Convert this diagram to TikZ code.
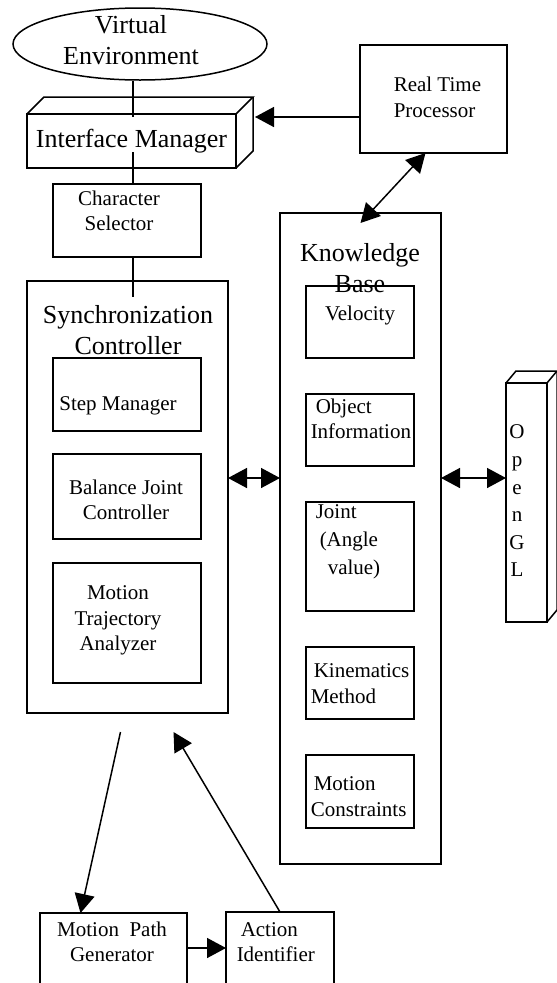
\documentclass[tikz,border=0pt]{standalone}
\usepackage{fontspec}
\setmainfont{Liberation Serif}
\usetikzlibrary{arrows.meta,shapes.geometric}
\begin{document}
\begin{tikzpicture}[x=1pt,y=-1pt,line width=1.5pt,
  box/.style={draw,rectangle,inner sep=0pt,outer sep=0pt},
  txt/.style={font=\fontsize{21}{25.5}\selectfont,align=center,inner sep=0pt},
  bigtxt/.style={font=\fontsize{26}{31}\selectfont,align=center,inner sep=0pt},
  arr/.style={-{Triangle[length=19pt,width=20pt]}},
  darr/.style={{Triangle[length=19pt,width=20pt]}-{Triangle[length=19pt,width=20pt]}}]
  \useasboundingbox (0,0) rectangle (557,983);
  \clip (0,0) rectangle (557,983);
  \coordinate (spine) at (133,0);
  \coordinate (lvl) at (0,478);
  \coordinate (lvlb) at (0,948);
  % left column
  \node[draw,ellipse,minimum width=254pt,minimum height=72pt,inner sep=0pt] (ve) at (140,44) {};
  \node[bigtxt] (vetxt) at (131,40) {Virtual\\Environment};
  \node[box,bigtxt,minimum width=209pt,minimum height=54pt] (im) at (131.5,141) {Interface Manager};
  \draw (im.north west) -- ++(17,-17) -- ++(209,0) -- (im.north east);
  \draw (im.south east) -- ++(17,-17) -- ++(0,-54);
  \coordinate (imside) at ([xshift=19pt]im.east);
  \node[box,minimum width=148pt,minimum height=73pt] (cs) at (127,220.5) {};
  \node[txt] (cstxt) at (119,211) {Character\\Selector};
  \node[box,minimum width=201pt,minimum height=432pt] (sc) at (127.5,497) {};
  \node[bigtxt] (sctxt) at (128,330) {Synchronization\\Controller};
  \node[box,minimum width=148pt,minimum height=73pt] (sm) at (127,394.5) {};
  \node[txt] (smtxt) at (118,406) {Step Manager};
  \node[box,minimum width=148pt,minimum height=85pt] (bjc) at (127,496.5) {};
  \node[txt] (bjctxt) at (126,500) {Balance Joint\\Controller};
  \node[box,minimum width=148pt,minimum height=120pt] (mta) at (127,623) {};
  \node[txt] (mtatxt) at (118,620.5) {Motion\\Trajectory\\Analyzer};
  % right column
  \node[box,minimum width=147pt,minimum height=108pt] (rtp) at (433.5,99) {};
  \node[txt,align=left,anchor=west] (rtptxt) at (393,97.5) {Real Time\\Processor};
  \node[box,minimum width=161pt,minimum height=651pt] (kb) at (360.5,538.5) {};
  \node[bigtxt] (kbtxt) at (360,268) {Knowledge\\Base};
  \node[box,minimum width=108pt,minimum height=72pt] (vel) at (360,322) {};
  \node[txt] (veltxt) at (360,315) {Velocity};
  \node[box,minimum width=108pt,minimum height=72pt] (obj) at (360,430) {};
  \node[txt,align=left,anchor=west] (objtxt) at (310,419) {\hspace*{5pt}Object\\Information};
  \node[box,minimum width=108pt,minimum height=109pt] (jnt) at (360,556.5) {};
  \node[txt,align=left,anchor=west,font=\fontsize{21}{28}\selectfont] (jnttxt) at (315,541.5) {Joint\\\hspace*{4pt}(Angle\\\hspace*{12pt}value)};
  \node[box,minimum width=108pt,minimum height=72pt] (kin) at (360,683) {};
  \node[txt,align=left,anchor=west] (kintxt) at (310,683.5) {\hspace*{3pt}Kinematics\\Method};
  \node[box,minimum width=108pt,minimum height=73pt] (mcn) at (360,791.5) {};
  \node[txt,align=left,anchor=west] (mcntxt) at (310,796.5) {\hspace*{3pt}Motion\\Constraints};
  % OpenGL block
  \node[box,minimum width=41pt,minimum height=239pt] (ogl) at (526.5,502.5) {};
  \draw (ogl.north west) -- ++(10,-12) -- ++(41,0) -- (ogl.north east);
  \draw (ogl.south east) -- ++(10,-12) -- ++(0,-239);
  \node[txt,font=\fontsize{21}{27.6}\selectfont] (ogltxt) at (517,501) {O\\p\\e\\n\\G\\L};
  % bottom row
  \node[box,minimum width=147pt,minimum height=77pt] (mpg) at (113.5,951.5) {};
  \node[txt] (mpgtxt) at (112,942) {Motion\ \ Path\\Generator};
  \node[box,minimum width=108pt,minimum height=78pt] (ai) at (280,951) {};
  \node[txt,align=left,anchor=west] (aitxt) at (236,942) {\hspace*{4pt}Action\\Identifier};
  % connectors
  \draw (spine |- ve.south) -- ([yshift=-3pt]spine |- im.north);
  \draw ([yshift=-11pt]spine |- im.center) -- (spine |- cs.north);
  \draw (spine |- cs.south) -- ([yshift=-16pt]spine |- sc.north);
  \draw[arr] ([yshift=-18pt]rtp.west) -- ([yshift=-18pt]rtp.west -| imside);
  \draw[darr] ([xshift=-8pt]rtp.south) -- ([yshift=-10pt]kb.north);
  \draw[darr] (sc.east |- lvl) -- (kb.west |- lvl);
  \draw[darr] (kb.east |- lvl) -- (ogl.west |- lvl);
  \draw[arr] ([xshift=-7pt,yshift=-19pt]sc.south) -- ([xshift=-33pt]mpg.north);
  \draw[arr] (ai.north) -- ([xshift=46pt,yshift=-19pt]sc.south);
  \draw[arr] (mpg.east |- lvlb) -- (ai.west |- lvlb);
\end{tikzpicture}
\end{document}
